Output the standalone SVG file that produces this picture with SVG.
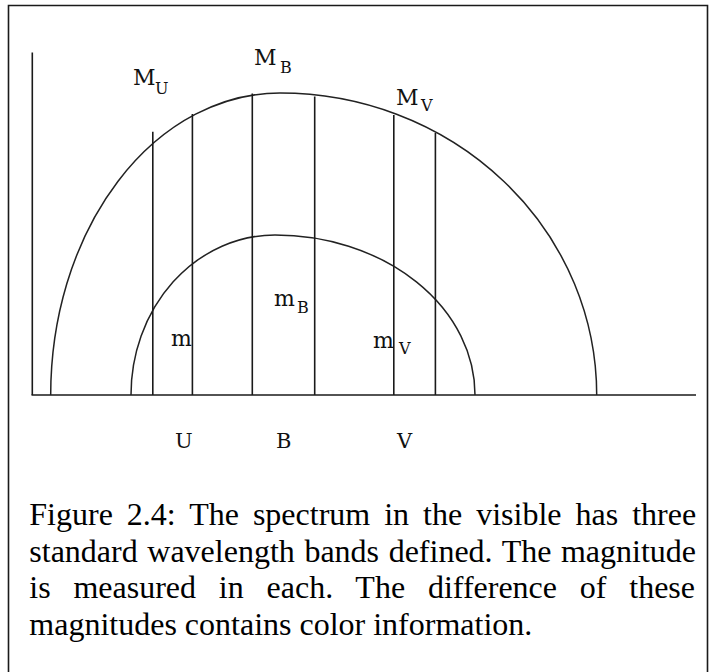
<svg xmlns="http://www.w3.org/2000/svg" width="709" height="672" viewBox="0 0 709 672">
<style>
.ln{stroke:#1a1a1a;stroke-width:1.6;fill:none}
.cv{stroke:#222;stroke-width:1.5;fill:none}
.lb{font-family:"DejaVu Serif","Liberation Serif",serif;font-size:22px;fill:#111}
.sb{font-family:"DejaVu Serif","Liberation Serif",serif;font-size:16px;fill:#111}
.ax{font-family:"DejaVu Serif","Liberation Serif",serif;font-size:21px;fill:#111}
.cap{font-family:"Liberation Serif","Times New Roman",serif;font-size:32px;fill:#000}
</style>
<rect width="709" height="672" fill="#fff"/>
<g id="frame"><path class="ln" d="M8.5,672 V5.5 H707.5 V672"/></g>
<g id="axes">
<line class="ln" x1="32.3" y1="52.5" x2="32.3" y2="395"/>
<line class="ln" x1="31.5" y1="395" x2="696" y2="395" stroke-width="2"/>
</g>
<g id="curves">
<path id="outer" class="cv" d="M50.7,395 A229.3,302 0 0 1 280,93 A316.7,302 0 0 1 596.7,395"/>
<path id="inner" class="cv" d="M131,395 A144,160 0 0 1 275,235 A200,160 0 0 1 475,395"/>
</g>
<g id="bands">
<line class="ln" x1="152.8" y1="131.7" x2="152.8" y2="395"/>
<line class="ln" x1="192.4" y1="114" x2="192.4" y2="395"/>
<line class="ln" x1="252.3" y1="93.5" x2="252.3" y2="395"/>
<line class="ln" x1="314.7" y1="96.5" x2="314.7" y2="395"/>
<line class="ln" x1="393.8" y1="115" x2="393.8" y2="395"/>
<line class="ln" x1="435.4" y1="133" x2="435.4" y2="395"/>
</g>
<g id="labels">
<text class="lb" x="133" y="85">M</text><text class="sb" x="155" y="94">U</text>
<text class="lb" x="254" y="65">M</text><text class="sb" x="280" y="73">B</text>
<text class="lb" x="396" y="105">M</text><text class="sb" x="421" y="111">V</text>
<text class="lb" x="274" y="306">m</text><text class="sb" x="297" y="313">B</text>
<text class="lb" x="373" y="348">m</text><text class="sb" x="399" y="354">V</text>
<text class="lb" x="171" y="346">m</text>
<text class="ax" x="175" y="448">U</text>
<text class="ax" x="276" y="448">B</text>
<text class="ax" x="397" y="448">V</text>
</g>
<g id="caption">
<text class="cap" x="29.3" y="525" word-spacing="6">Figure 2.4: The spectrum in the visible has three</text>
<text class="cap" x="29.3" y="561.7" word-spacing="1.6">standard wavelength bands defined. The magnitude</text>
<text class="cap" x="29.3" y="598.3" word-spacing="14.8">is measured in each. The difference of these</text>
<text class="cap" x="29.3" y="635">magnitudes contains color information.</text>
</g>
</svg>
